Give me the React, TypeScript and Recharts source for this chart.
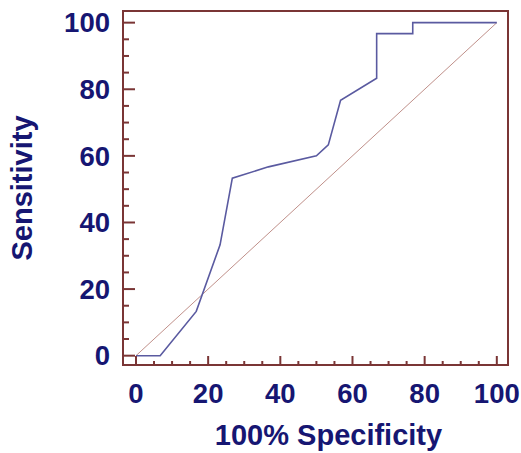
import React from "react";
import { LineChart, Line, XAxis, YAxis, ReferenceArea } from "recharts";

// ROC curve points (100% - specificity, sensitivity)
const specX = [0, 6.7, 16.7, 23.3, 26.7, 36.7, 50, 53.3, 56.7, 66.7, 66.7, 76.7, 76.7, 100];
const sensY = [0, 0, 13.3, 33.3, 53.3, 56.7, 60, 63.3, 76.7, 83.3, 96.7, 96.7, 100, 100];
// reference diagonal
const diagX = [0, 100];
const diagY = [0, 100];
// ticks every 5, labels every 20
const tickValues = [0, 5, 10, 15, 20, 25, 30, 35, 40, 45, 50, 55, 60, 65, 70, 75, 80, 85, 90, 95, 100];

const X_DOMAIN: [number, number] = [-3.6, 103.1];
const Y_DOMAIN: [number, number] = [-2.8, 103.5];

const rocData = specX.map((x, i) => ({ x, y: sensY[i] }));
const diagData = diagX.map((x, i) => ({ x, y: diagY[i] }));

const FRAME = "#7a3535";
const TEXT = "#161672";
const ROC = "#5a5aa0";
const DIAG = "#c0908a";
const FONT = "'Liberation Sans', Arial, sans-serif";

const XTick = (props: any) => {
  const { x, y, payload } = props;
  const v = payload.value;
  const major = v % 20 === 0;
  return (
    <g>
      <line x1={x} y1={y} x2={x} y2={y - (major ? 9 : 4)} stroke={FRAME} strokeWidth={2} />
      {major && (
        <text x={x} y={y + 38} textAnchor="middle" fill={TEXT} fontSize={27.5} fontWeight="bold" fontFamily={FONT}>
          {v}
        </text>
      )}
    </g>
  );
};

const YTick = (props: any) => {
  const { x, y, payload } = props;
  const v = payload.value;
  const major = v % 20 === 0;
  return (
    <g>
      <line x1={x} y1={y} x2={x + (major ? 12 : 6)} y2={y} stroke={FRAME} strokeWidth={2} />
      {major && (
        <text x={x - 13} y={y + 9.7} textAnchor="end" fill={TEXT} fontSize={27.5} fontWeight="bold" fontFamily={FONT}>
          {v}
        </text>
      )}
    </g>
  );
};

export default function App() {
  return (
    <div style={{ position: "absolute", left: 0, top: 0, background: "#fff" }}>
      <LineChart width={521} height={453} margin={{ top: 11, right: 13, bottom: 0, left: 0 }}>
        <XAxis
          type="number"
          dataKey="x"
          domain={X_DOMAIN}
          allowDataOverflow
          ticks={tickValues}
          interval={0}
          tick={<XTick />}
          tickSize={0}
          tickMargin={0}
          tickLine={false}
          axisLine={{ stroke: FRAME, strokeWidth: 2 }}
          height={88}
          label={{
            value: "100% Specificity",
            position: "insideBottom",
            offset: 8,
            dx: 13,
            fill: TEXT,
            fontSize: 29,
            fontWeight: "bold",
            fontFamily: FONT,
          }}
        />
        <YAxis
          type="number"
          dataKey="y"
          domain={Y_DOMAIN}
          allowDataOverflow
          ticks={tickValues}
          interval={0}
          tick={<YTick />}
          tickSize={0}
          tickMargin={0}
          tickLine={false}
          axisLine={{ stroke: FRAME, strokeWidth: 2 }}
          width={123}
          label={{
            value: "Sensitivity",
            angle: -90,
            position: "insideLeft",
            offset: 22,
            fill: TEXT,
            fontSize: 29,
            fontWeight: "bold",
            fontFamily: FONT,
            style: { textAnchor: "middle" },
          }}
        />
        <ReferenceArea
          x1={X_DOMAIN[0]}
          x2={X_DOMAIN[1]}
          y1={Y_DOMAIN[0]}
          y2={Y_DOMAIN[1]}
          fill="none"
          fillOpacity={0}
          stroke={FRAME}
          strokeWidth={2}
          ifOverflow="visible"
        />
        <Line
          data={diagData}
          dataKey="y"
          type="linear"
          stroke={DIAG}
          strokeWidth={1}
          dot={false}
          isAnimationActive={false}
        />
        <Line
          data={rocData}
          dataKey="y"
          type="linear"
          stroke={ROC}
          strokeWidth={1.6}
          dot={false}
          isAnimationActive={false}
        />
      </LineChart>
    </div>
  );
}
